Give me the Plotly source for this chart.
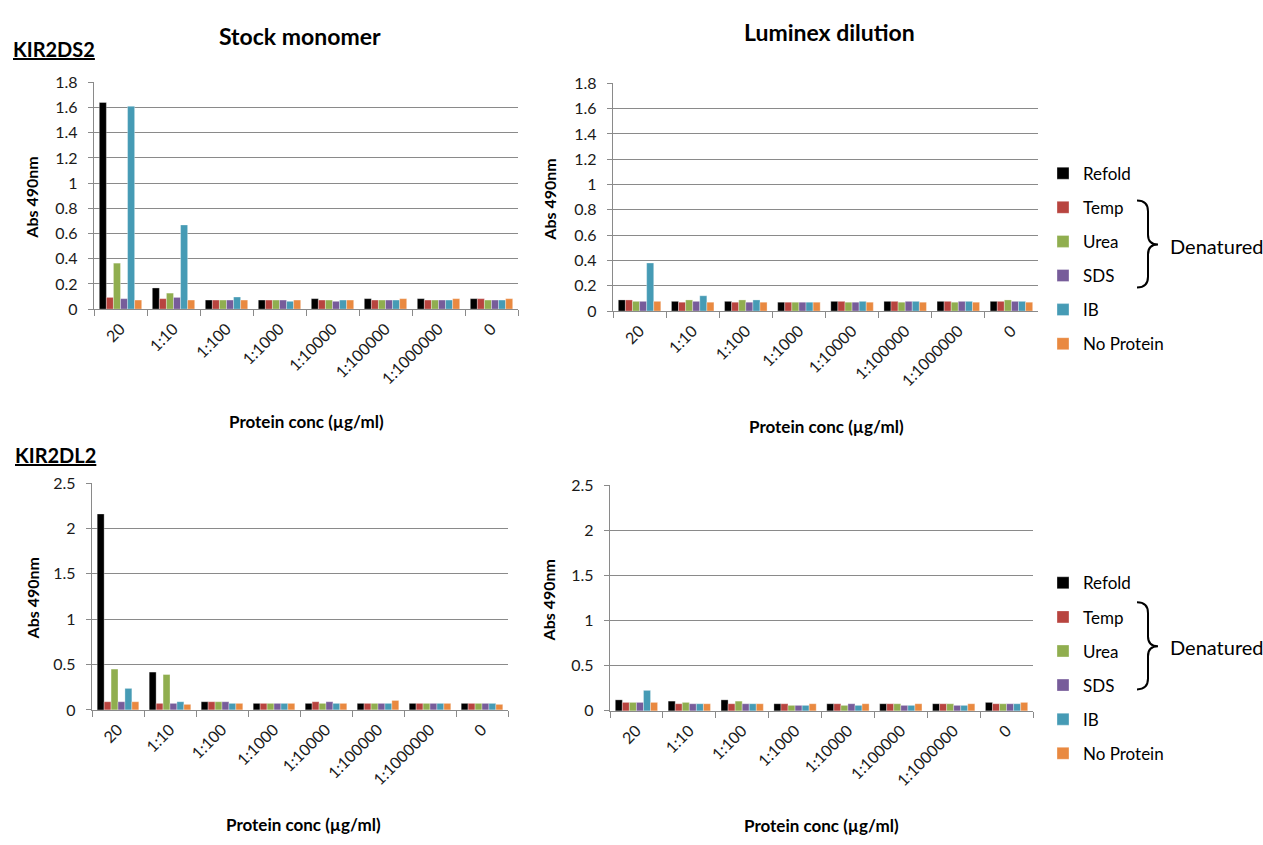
import plotly.graph_objects as go

categories = ["20", "1:10", "1:100", "1:1000", "1:10000", "1:100000", "1:1000000", "0"]
series_names = ["Refold", "Temp", "Urea", "SDS", "IB", "No Protein"]
series_colors = ["#000000", "#B8443F", "#90AE4F", "#775C9A", "#469BB5", "#E98940"]

# KIR2DS2 - Stock monomer
ds2_stock = {
    "Refold":     [1.64, 0.168, 0.072, 0.072, 0.083, 0.083, 0.083, 0.083],
    "Temp":       [0.093, 0.083, 0.072, 0.072, 0.072, 0.072, 0.072, 0.083],
    "Urea":       [0.365, 0.127, 0.072, 0.072, 0.072, 0.072, 0.072, 0.072],
    "SDS":        [0.083, 0.093, 0.072, 0.072, 0.062, 0.072, 0.072, 0.072],
    "IB":         [1.61, 0.668, 0.096, 0.062, 0.072, 0.072, 0.072, 0.072],
    "No Protein": [0.072, 0.072, 0.072, 0.072, 0.072, 0.083, 0.083, 0.083],
}
# KIR2DS2 - Luminex dilution
ds2_lum = {
    "Refold":     [0.088, 0.077, 0.077, 0.070, 0.077, 0.077, 0.077, 0.077],
    "Temp":       [0.088, 0.070, 0.070, 0.070, 0.077, 0.077, 0.077, 0.077],
    "Urea":       [0.077, 0.088, 0.088, 0.070, 0.070, 0.070, 0.070, 0.088],
    "SDS":        [0.077, 0.077, 0.070, 0.070, 0.070, 0.077, 0.077, 0.077],
    "IB":         [0.380, 0.121, 0.088, 0.070, 0.077, 0.077, 0.077, 0.077],
    "No Protein": [0.077, 0.070, 0.070, 0.070, 0.070, 0.070, 0.070, 0.070],
}
# KIR2DL2 - Stock monomer
dl2_stock = {
    "Refold":     [2.16, 0.417, 0.090, 0.072, 0.072, 0.072, 0.072, 0.072],
    "Temp":       [0.090, 0.072, 0.090, 0.072, 0.090, 0.072, 0.072, 0.072],
    "Urea":       [0.450, 0.390, 0.090, 0.072, 0.072, 0.072, 0.072, 0.072],
    "SDS":        [0.090, 0.072, 0.090, 0.072, 0.090, 0.072, 0.072, 0.072],
    "IB":         [0.237, 0.090, 0.072, 0.072, 0.072, 0.072, 0.072, 0.072],
    "No Protein": [0.090, 0.061, 0.072, 0.072, 0.072, 0.104, 0.072, 0.061],
}
# KIR2DL2 - Luminex dilution
dl2_lum = {
    "Refold":     [0.122, 0.108, 0.122, 0.079, 0.079, 0.079, 0.079, 0.094],
    "Temp":       [0.094, 0.079, 0.079, 0.079, 0.079, 0.079, 0.079, 0.079],
    "Urea":       [0.094, 0.094, 0.108, 0.061, 0.061, 0.079, 0.079, 0.079],
    "SDS":        [0.094, 0.079, 0.079, 0.061, 0.079, 0.061, 0.061, 0.079],
    "IB":         [0.227, 0.079, 0.079, 0.061, 0.061, 0.061, 0.061, 0.079],
    "No Protein": [0.094, 0.079, 0.079, 0.079, 0.079, 0.079, 0.079, 0.094],
}

W, H = 1263, 845
FONT = "Lato"

def px(x):
    return x / W

def py(y):
    return 1 - y / H

panels = [
    (ds2_stock, "x", "y", (94, 518), (74, 306), 1.8, 0.2, "legend", True),
    (ds2_lum, "x2", "y2", (613, 1038), (75, 308), 1.8, 0.2, "legend", False),
    (dl2_stock, "x3", "y3", (92, 508), (484, 716), 2.5, 0.5, "legend2", True),
    (dl2_lum, "x4", "y4", (610, 1033), (486, 717), 2.5, 0.5, "legend2", False),
]

fig = go.Figure()
layout = {}
for data, xa, ya, (x0, x1), (yt, yb), ymax, dt, leg, showleg in panels:
    for name, color in zip(series_names, series_colors):
        fig.add_trace(go.Bar(
            x=categories, y=data[name], name=name, xaxis=xa, yaxis=ya,
            marker=dict(color=color, line=dict(color="rgba(255,255,255,0.55)", width=0.6)),
            legend=leg, showlegend=showleg, legendgroup=leg + name,
        ))
    xk = "xaxis" + xa[1:]
    yk = "yaxis" + ya[1:]
    layout[xk] = dict(
        domain=[px(x0), px(x1)], anchor=ya, type="category",
        showgrid=False, showline=True, linecolor="#8a8a8a", linewidth=1.3,
        ticks="outside", tickson="boundaries", ticklen=6, tickcolor="#8a8a8a",
        tickangle=-45, tickfont=dict(family=FONT, size=16, color="#1a1a1a"),
        ticklabelstandoff=3, fixedrange=True,
    )
    layout[yk] = dict(
        domain=[py(yb), py(yt)], anchor=xa, range=[0, ymax], dtick=dt,
        showgrid=True, gridcolor="#8a8a8a", gridwidth=1.4,
        showline=True, linecolor="#8a8a8a", linewidth=1.3, zeroline=False,
        ticks="outside", ticklen=5, tickcolor="#8a8a8a",
        tickfont=dict(family=FONT, size=16, color="#1a1a1a"),
        ticklabelstandoff=7, fixedrange=True,
    )

fig.update_layout(**layout)

ann = []
def text(x, y, s, size, angle=0, xanchor="center"):
    ann.append(dict(
        x=px(x), y=py(y), xref="paper", yref="paper", text=s, showarrow=False,
        xanchor=xanchor, yanchor="middle", textangle=angle,
        font=dict(family=FONT, size=size, color="#000000"),
    ))

text(300, 27, "<b>Stock monomer</b>", 23)
text(829, 22, "<b>Luminex dilution</b>", 23)
text(11, 40, "<b><u>KIR2DS2</u></b>", 20, xanchor="left")
text(13, 455, "<b><u>KIR2DL2</u></b>", 20, xanchor="left")
for (x, y) in [(32, 192), (550, 194), (32, 602), (548, 604)]:
    text(x, y, "<b>Abs 490nm</b>", 16, angle=-90)
for (x, y) in [(306, 421), (826, 426), (303, 833), (822, 834)]:
    text(x, y, "<b>Protein conc (µg/ml)</b>", 17)
for dy in [0, 411]:
    text(1168, 241 + dy, "Denatured", 20, xanchor="left")

shapes = []
for dy in [0, 411]:
    pts = [
        ("M", [(1137, 195)]),
        ("Q", [(1148, 195), (1148, 206)]),
        ("L", [(1148, 230)]),
        ("Q", [(1148, 240), (1158, 240)]),
        ("Q", [(1148, 240), (1148, 250)]),
        ("L", [(1148, 273)]),
        ("Q", [(1148, 284), (1137, 284)]),
    ]
    path = ""
    for cmd, coords in pts:
        path += cmd + " " + " ".join(f"{px(a):.5f},{py(b + dy):.5f}" for a, b in coords) + " "
    shapes.append(dict(type="path", path=path.strip(), xref="paper", yref="paper",
                       line=dict(color="#000000", width=2)))

legend_common = dict(xanchor="left", yanchor="top",
                     font=dict(family=FONT, size=17, color="#000000"),
                     tracegroupgap=9, traceorder="grouped", bgcolor="rgba(0,0,0,0)")

fig.update_layout(
    width=W, height=H, margin=dict(l=0, r=0, t=0, b=0),
    paper_bgcolor="white", plot_bgcolor="white",
    barmode="group", bargap=0.2, bargroupgap=0,
    annotations=ann, shapes=shapes,
    legend=dict(x=px(1043), y=py(149), **legend_common),
    legend2=dict(x=px(1043), y=py(568), **legend_common),
    font=dict(family=FONT),
)

fig.write_html("out.html")
